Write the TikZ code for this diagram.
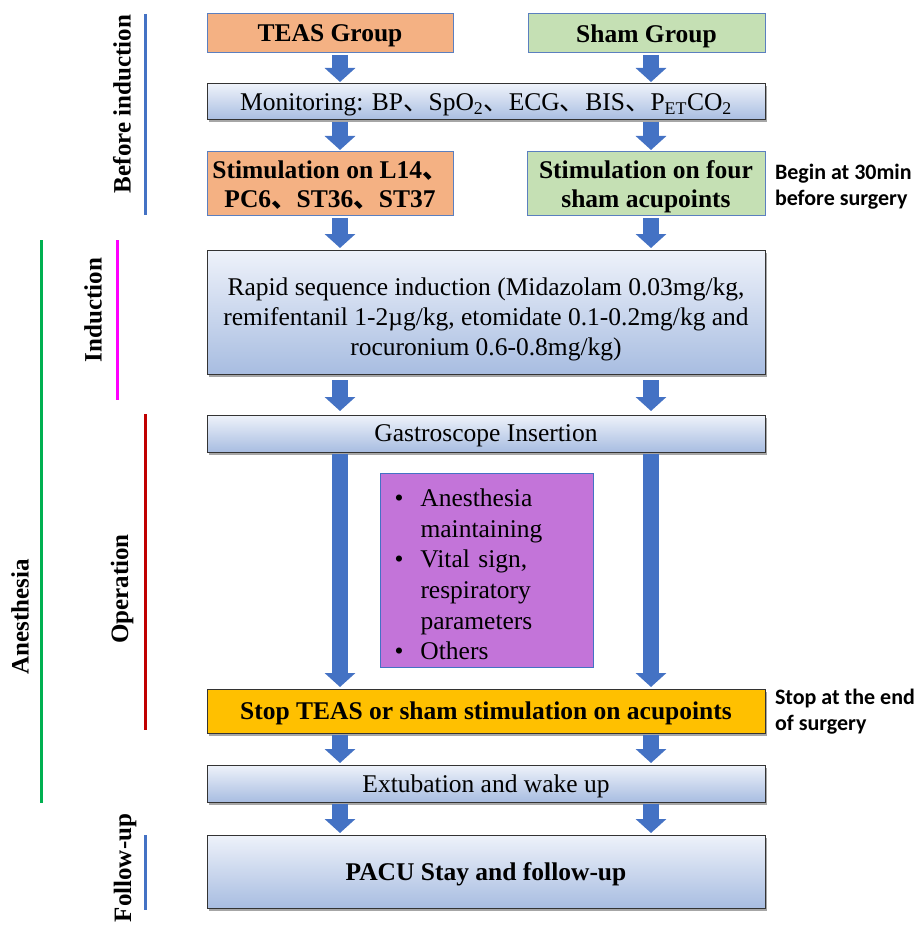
\documentclass[tikz,border=0pt]{standalone}
\usepackage{fontspec}
\setmainfont{Liberation Serif}
\newfontfamily\cjk{Noto Sans CJK SC}
\newfontfamily\notefont{Carlito}
\usetikzlibrary{arrows.meta,shadows,calc}
\definecolor{ablue}{HTML}{4472C4}
\definecolor{oframe}{HTML}{5B7FBF}
\definecolor{orangefill}{HTML}{F4B183}
\definecolor{greenfill}{HTML}{C5E0B4}
\definecolor{gtop}{HTML}{EEF2FA}
\definecolor{gbot}{HTML}{A8BDE1}
\definecolor{purplefill}{HTML}{C374D9}
\definecolor{stopfill}{HTML}{FFC000}
\definecolor{lmag}{HTML}{FF00FF}
\definecolor{lgreen}{HTML}{00B050}
\definecolor{lred}{HTML}{C00000}
\newcommand{\ic}{{\cjk 、}}
\newcommand{\lowerby}[2]{\raisebox{-#1}[\height][\depth]{#2}}
\begin{document}
\begin{tikzpicture}[x=1pt,y=-1pt,
  every node/.style={inner sep=0pt, outer sep=0pt},
  colbox/.style={draw=oframe, line width=1pt, align=center, font=\fontsize{25.5}{29}\selectfont\bfseries},
  gradbox/.style={draw=black!80, line width=1pt, top color=gtop, bottom color=gbot, align=center,
     drop shadow={shadow xshift=2pt, shadow yshift=-2.5pt, opacity=0.35, fill=black}},
  oneline/.style={text depth=0pt},
  barrow/.style={draw=ablue, line width=16pt, -{Triangle[width=30pt,length=14pt]}, shorten <=2pt, shorten >=2pt},
  sidelbl/.style={rotate=90, font=\fontsize{25}{28}\selectfont\bfseries},
  sideline/.style={line width=3pt},
  note/.style={align=left, anchor=west, font=\fontsize{22}{26}\notefont\bfseries\selectfont}
]
\useasboundingbox (0,0) rectangle (921,925);

\coordinate (L) at (340,0);
\coordinate (R) at (651,0);

% boxes
\node[colbox, oneline, fill=orangefill, minimum width=246pt, minimum height=39pt] (teas) at (330,33.5) {TEAS Group};
\node[colbox, oneline, fill=greenfill, minimum width=237pt, minimum height=39pt] (sham) at (646.5,33.5) {Sham Group};
\node[gradbox, oneline, minimum width=558pt, minimum height=36pt, font=\fontsize{25.5}{29}\selectfont] (mon) at (486,102)
  {Monitoring: BP\ic SpO\textsubscript{2}\ic ECG\ic BIS\ic P\textsubscript{ET}CO\textsubscript{2}};
\node[colbox, fill=orangefill, minimum width=246pt, minimum height=64pt, text depth=-6pt] (stiml) at (330,184)
  {Stimulation on L14\ic\\PC6\ic ST36\ic ST37};
\node[colbox, fill=greenfill, minimum width=238pt, minimum height=64pt, text depth=-4pt] (stimr) at (646,184)
  {Stimulation on four\\sham acupoints};
\node[note] (begin) at (775,187) {Begin at 30min\\before surgery};

\node[gradbox, minimum width=558pt, minimum height=124pt, font=\fontsize{25.5}{30}\selectfont] (rsi) at (486,312)
  {\lowerby{7pt}{\begin{tabular}{@{}c@{}}Rapid sequence induction (Midazolam 0.03mg/kg,\\remifentanil 1-2µg/kg, etomidate 0.1-0.2mg/kg and\\rocuronium 0.6-0.8mg/kg)\end{tabular}}};
\node[gradbox, oneline, minimum width=558pt, minimum height=37pt, font=\fontsize{25.5}{29}\selectfont] (gas) at (486,433.5) {Gastroscope Insertion};

\node[draw=ablue, line width=1pt, fill=purplefill, minimum width=213pt, minimum height=194pt, text width=184pt,
  font=\fontsize{25.5}{30.6}\selectfont, align=left] (pur) at (486.5,570)
  {\lowerby{7pt}{\begin{tabular}{@{}p{26pt}@{}l@{}}
   \textbullet & Anesthesia\\
               & maintaining\\
   \textbullet & Vital sign,\\
               & respiratory\\
               & parameters\\
   \textbullet & Others
   \end{tabular}}};

\node[draw=black!80, line width=1pt, fill=stopfill, minimum width=558pt, minimum height=44pt, oneline,
  font=\fontsize{25.5}{29}\selectfont\bfseries,
  drop shadow={shadow xshift=2pt, shadow yshift=-2.5pt, opacity=0.35, fill=black}] (stop) at (486,711)
  {Stop TEAS or sham stimulation on acupoints};
\node[note] (stopnote) at (775,712) {Stop at the end\\of surgery};

\node[gradbox, oneline, minimum width=558pt, minimum height=37pt, font=\fontsize{25.5}{29}\selectfont] (ext) at (486,783.5) {Extubation and wake up};
\node[gradbox, oneline, minimum width=558pt, minimum height=73pt, font=\fontsize{25.5}{29}\selectfont\bfseries] (pacu) at (486,871.5) {PACU Stay and follow-up};

% block arrows
\draw[barrow] (teas.south -| L) -- (mon.north -| L);
\draw[barrow] (sham.south -| R) -- (mon.north -| R);
\draw[barrow] (mon.south -| L) -- (stiml.north -| L);
\draw[barrow] (mon.south -| R) -- (stimr.north -| R);
\draw[barrow] (stiml.south -| L) -- (rsi.north -| L);
\draw[barrow] (stimr.south -| R) -- (rsi.north -| R);
\draw[barrow, shorten <=6pt, shorten >=4pt] (rsi.south -| L) -- (gas.north -| L);
\draw[barrow, shorten <=6pt, shorten >=4pt] (rsi.south -| R) -- (gas.north -| R);
\draw[barrow] (gas.south -| L) -- (stop.north -| L);
\draw[barrow] (gas.south -| R) -- (stop.north -| R);
\draw[barrow] (stop.south -| L) -- (ext.north -| L);
\draw[barrow] (stop.south -| R) -- (ext.north -| R);
\draw[barrow] (ext.south -| L) -- (pacu.north -| L);
\draw[barrow] (ext.south -| R) -- (pacu.north -| R);

% side labels and lines
\coordinate (bl1) at (145,14);  \coordinate (bl2) at (145,215);
\coordinate (ml1) at (117,240); \coordinate (ml2) at (117,400);
\coordinate (gl1) at (41,240);  \coordinate (gl2) at (41,803);
\coordinate (rl1) at (145,414); \coordinate (rl2) at (145,730);
\coordinate (fl1) at (145,835); \coordinate (fl2) at (145,910);
\draw[sideline, ablue] (bl1) -- (bl2);
\draw[sideline, lmag] (ml1) -- (ml2);
\draw[sideline, lgreen] (gl1) -- (gl2);
\draw[sideline, lred] (rl1) -- (rl2);
\draw[sideline, ablue] (fl1) -- (fl2);
\node[sidelbl] (lbefore) at (122,104) {Before induction};
\node[sidelbl] (linduct) at (93,310) {Induction};
\node[sidelbl] (lanest) at (20,617) {Anesthesia};
\node[sidelbl] (loper) at (122,589) {Operation};
\node[sidelbl] (lfollow) at (125,868) {Follow-up};
\end{tikzpicture}
\end{document}
